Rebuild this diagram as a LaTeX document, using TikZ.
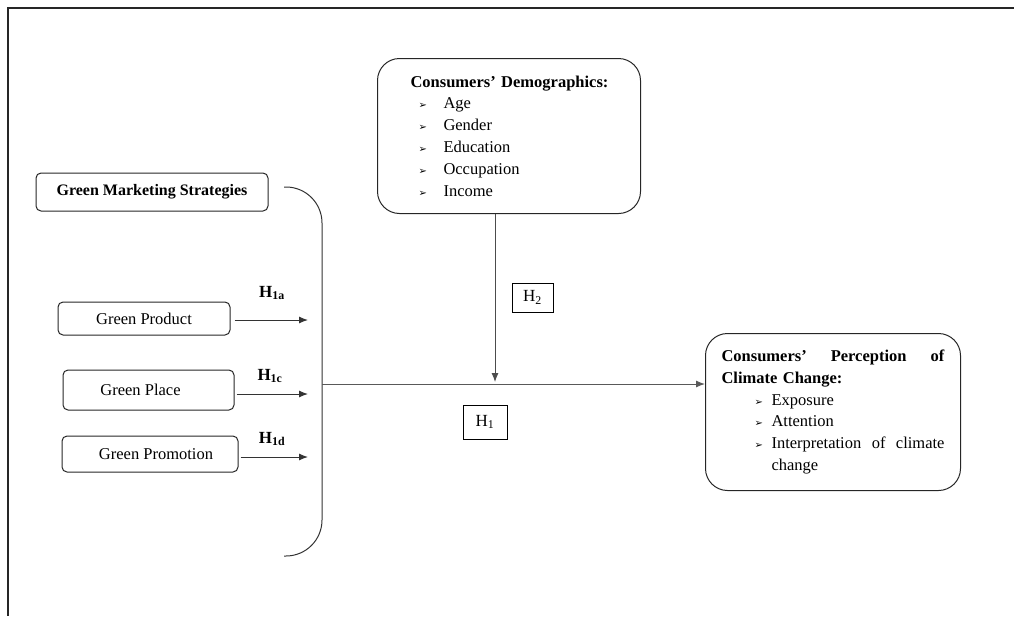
\documentclass[tikz,border=0pt]{standalone}
\usepackage{fontspec}
\setmainfont{Liberation Serif}
\newfontfamily\symfont{DejaVu Sans}
\usetikzlibrary{arrows.meta,calc}

\tikzset{every picture/.style={line width=0.75pt}}
\tikzset{
  softbox/.style={draw=black!85, rounded corners=5pt, line width=1pt, inner sep=0pt, font=\fontsize{16.5}{20}\selectfont},
  roundbox/.style={draw=black!85, rounded corners=22pt, line width=1pt, anchor=north west, align=left, font=\fontsize{16.5}{21.8}\selectfont},
  hbox/.style={draw=black, line width=1pt, inner sep=0pt, font=\fontsize{17}{20}\selectfont},
  hlabel/.style={inner sep=0pt, font=\bfseries\fontsize{17}{20}\selectfont},
  arr/.style={draw=black!80, line width=1pt, -{Latex[length=9pt,width=7pt]}},
}
\newcommand{\dbul}[1]{\makebox[33pt][l]{\hspace*{8pt}{\symfont\fontsize{10}{10}\selectfont ➢}}#1}
\newcommand{\pbul}[1]{\makebox[50pt][l]{\hspace*{33pt}{\symfont\fontsize{10}{10}\selectfont ➢}}#1}

\begin{document}
\begin{tikzpicture}[x=1pt,y=1pt,yscale=-1]
\useasboundingbox (0,0) rectangle (1014,616);

%frame
\draw [line width=1.5pt, black!85] (1014,8) -- (8,8) -- (8,616);

% boxes on the left
\node [softbox, font=\bfseries\fontsize{16}{20}\selectfont, minimum width=232pt, minimum height=38pt] (gms) at (152,192) {Green Marketing Strategies};
\node [softbox, minimum width=172pt, minimum height=33pt] (prod) at (144,318.5) {Green Product};
\node [softbox, minimum width=171pt, minimum height=40pt] (place) at (148.5,390) {\hspace*{-16pt}Green Place};
\node [softbox, minimum width=176pt, minimum height=36pt] (promo) at (150,454) {\hspace*{12pt}Green Promotion};

% bracket
\draw [black!80, line width=1pt, rounded corners=36pt] (284,187) -| (322,372) |- (284,556);
\coordinate (brk) at (322,384);
\coordinate (tipx) at (308,0);

% demographics
\node [roundbox, minimum width=263pt, minimum height=155pt, text width=197pt, inner xsep=33pt] (demo) at (377,58)
  {\mbox{\textbf{Consumers' Demographics:}}\\
   \dbul{Age}\\
   \dbul{Gender}\\
   \dbul{Education}\\
   \dbul{Occupation}\\
   \dbul{Income}};

% perception
\node [roundbox, minimum width=255pt, minimum height=157pt, text width=223pt, inner xsep=16pt] (percep) at (705,333)
  {\makebox[223pt][s]{\textbf{Consumers'\hfill Perception\hfill of}}\\
   \textbf{Climate Change:}\\
   \pbul{Exposure}\\
   \pbul{Attention}\\
   \pbul{\makebox[173pt][s]{Interpretation\hfill of\hfill climate}}\\
   \hspace*{50pt}change};

% hypotheses
\node [hlabel] (h1a) at (272,293) {H\textsubscript{1a}};
\node [hlabel] (h1c) at (270,376) {H\textsubscript{1c}};
\node [hlabel] (h1d) at (272,439) {H\textsubscript{1d}};
\node [hbox, minimum width=41pt, minimum height=29pt] (h2) at (532.5,297.5) {H\textsubscript{2}};
\node [hbox, minimum width=44pt, minimum height=34pt] (h1) at (485,422) {H\textsubscript{1}};

% arrows
\draw [arr] ([xshift=4pt,yshift=1.5pt]prod.east) -- ([yshift=1.5pt]prod.east -| tipx);
\draw [arr] ([xshift=2pt,yshift=4pt]place.east) -- ([yshift=4pt]place.east -| tipx);
\draw [arr] ([xshift=2pt,yshift=3pt]promo.east) -- ([yshift=3pt]promo.east -| tipx);
\coordinate (meet) at (495,382);
\draw [arr, black!65] (brk) -- (brk -| percep.west);
\draw [arr, black!70, line width=0.9pt] (demo.south -| meet) -- (meet);
\end{tikzpicture}
\end{document}
